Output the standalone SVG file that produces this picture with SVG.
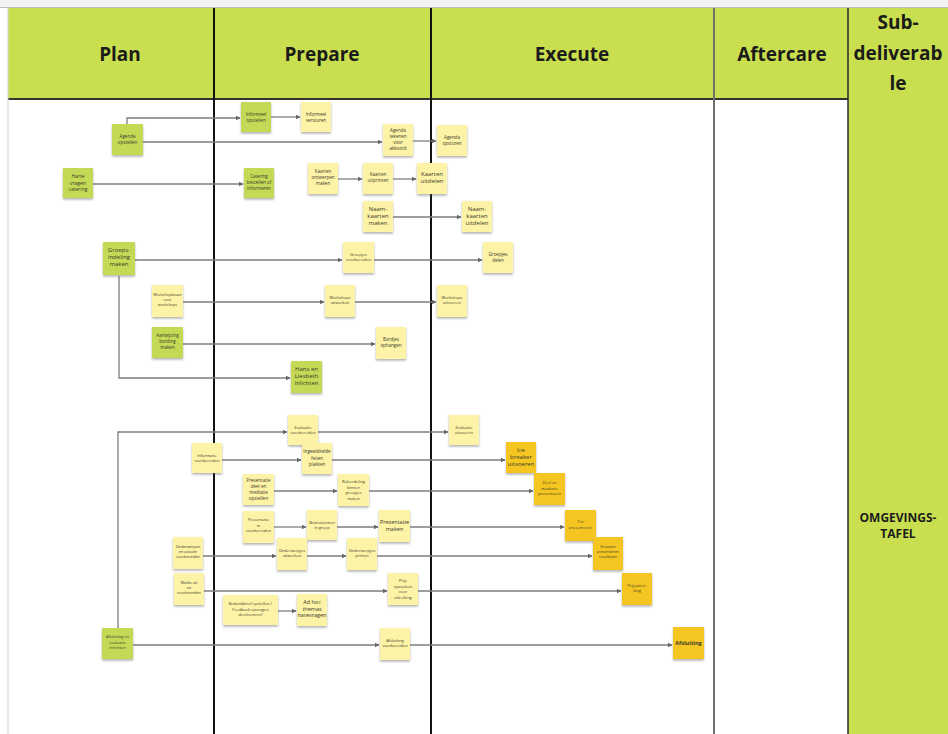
<svg xmlns="http://www.w3.org/2000/svg" width="948" height="734" viewBox="0 0 948 734">
<style>
.hd{font-family:"Open Sans","Noto Sans",sans-serif;font-weight:700;font-size:19px;fill:#1b1b1b;text-anchor:middle}
.sd{font-family:"Open Sans","Noto Sans",sans-serif;font-weight:700;font-size:12px;fill:#1b1b1b;text-anchor:middle}
.n rect{filter:url(#sh)}
.gr rect{fill:#c4d957}
.ye rect{fill:#fdf3a6}
.or rect{fill:#f5c623}
.n text{font-family:"Open Sans","Liberation Sans",sans-serif;fill:#3a3a2a;text-anchor:middle;font-size:4.5px}
.c path{fill:none;stroke:#7d7d7d;stroke-width:1.3;marker-end:url(#ah)}
.col{stroke:#111;stroke-width:2}
</style>
<defs>
<filter id="sh" x="-20%" y="-20%" width="140%" height="150%">
<feDropShadow dx="0" dy="1.6" stdDeviation="0.9" flood-color="#555" flood-opacity="0.45"/>
</filter>
<marker id="ah" viewBox="0 0 10 10" refX="9" refY="5" markerWidth="5" markerHeight="5" markerUnits="userSpaceOnUse" orient="auto">
<path d="M0,0 L10,5 L0,10 z" fill="#666"/>
</marker>
</defs>
<rect x="0" y="0" width="948" height="734" fill="#ffffff"/>
<rect x="0" y="0" width="948" height="7" fill="#f2f2f2"/>
<line x1="0" y1="7.5" x2="948" y2="7.5" stroke="#bbb" stroke-width="1"/>
<!-- header band -->
<rect x="8" y="8" width="840" height="91" fill="#c9df4f"/>
<rect x="848" y="8" width="100" height="726" fill="#c9df4f"/>
<line x1="8" y1="99" x2="848" y2="99" stroke="#333" stroke-width="2"/>
<line x1="8" y1="8" x2="8" y2="734" stroke="#cfcfcf" stroke-width="1"/>
<line class="col" x1="214" y1="8" x2="214" y2="734"/>
<line class="col" x1="431" y1="8" x2="431" y2="734" stroke="#333"/>
<line x1="714" y1="8" x2="714" y2="734" stroke="#6f6f6f" stroke-width="2"/>
<line x1="848" y1="8" x2="848" y2="734" stroke="#2a2a2a" stroke-width="1.5"/>
<text class="hd" x="120" y="61">Plan</text>
<text class="hd" x="322" y="61">Prepare</text>
<text class="hd" x="572" y="61">Execute</text>
<text class="hd" x="782" y="61">Aftercare</text>
<text class="hd" x="898" y="29">Sub-</text>
<text class="hd" x="898" y="60">deliverab</text>
<text class="hd" x="898" y="90">le</text>
<text class="sd" x="898" y="522">OMGEVINGS-</text>
<text class="sd" x="898" y="538">TAFEL</text>

<g id="connectors" class="c">
<path d="M127,124 V118 H240"/>
<path d="M271,117 H300"/>
<path d="M143,142 H382"/>
<path d="M413,141 H436"/>
<path d="M93,184 H243"/>
<path d="M338,179 H362"/>
<path d="M393,179 H416"/>
<path d="M393,217 H461"/>
<path d="M135,260 H342"/>
<path d="M374,260 H482"/>
<path d="M183,302 H324"/>
<path d="M355,302 H436"/>
<path d="M183,344 H375"/>
<path d="M119,276 V378 H290"/>
<path d="M118,628 V432 H287"/>
<path d="M318,432 H448"/>
<path d="M222,460 H301"/>
<path d="M332,460 H505"/>
<path d="M274,491 H337"/>
<path d="M369,491 H533"/>
<path d="M274,527 H306"/>
<path d="M337,527 H378"/>
<path d="M410,527 H564"/>
<path d="M203,556 H276"/>
<path d="M307,556 H346"/>
<path d="M377,556 H592"/>
<path d="M204,591 H387"/>
<path d="M418,591 H621"/>
<path d="M278,611 H296"/>
<path d="M133,645 H379"/>
<path d="M410,645 H672"/>
</g>

<g id="agenda-opstellen" class="n gr"><rect x="112" y="124" width="31" height="31"/><text x="127.5" y="138">Agenda</text><text x="127.5" y="144">opstellen</text></g>
<g id="informeel-opstellen" class="n gr"><rect x="241" y="102" width="30" height="30"/><text x="256" y="116">Informeel</text><text x="256" y="122">opstellen</text></g>
<g id="informeel-versturen" class="n ye"><rect x="301" y="102" width="30" height="30"/><text x="316" y="116">Informeel</text><text x="316" y="122">versturen</text></g>
<g id="agenda-akkoord" class="n ye"><rect x="383" y="124" width="30" height="32"/><text x="398" y="132">Agenda</text><text x="398" y="138">tekenen</text><text x="398" y="144">voor</text><text x="398" y="150">akkoord</text></g>
<g id="agenda-opsturen" class="n ye"><rect x="437" y="125" width="30" height="31"/><text x="452" y="139">Agenda</text><text x="452" y="145">opsturen</text></g>
<g id="catering-vragen" class="n gr"><rect x="63" y="168" width="30" height="30"/><text x="78" y="178" style="font-size:5px">Harte</text><text x="78" y="184.5" style="font-size:5px">vragen</text><text x="78" y="191" style="font-size:5px">catering</text></g>
<g id="catering-bestellen" class="n gr"><rect x="244" y="168" width="30" height="30"/><text x="259" y="178">Catering</text><text x="259" y="184">bestellen of</text><text x="259" y="190">informeren</text></g>
<g id="kaarten-ontwerpen" class="n ye"><rect x="308" y="163" width="30" height="31"/><text x="323" y="173">Kaarten</text><text x="323" y="179">ontwerpen</text><text x="323" y="185">maken</text></g>
<g id="kaarten-printen" class="n ye"><rect x="363" y="163" width="30" height="31"/><text x="378" y="176">Kaarten</text><text x="378" y="182">uitprinten</text></g>
<g id="kaarten-uitdelen" class="n ye"><rect x="417" y="163" width="30" height="31"/><text x="432" y="176" style="font-size:6px">Kaarten</text><text x="432" y="183" style="font-size:6px">uitdelen</text></g>
<g id="naamkaarten-maken" class="n ye"><rect x="363" y="201" width="30" height="31"/><text x="378" y="211" style="font-size:6px">Naam-</text><text x="378" y="218" style="font-size:6px">kaarten</text><text x="378" y="225" style="font-size:6px">maken</text></g>
<g id="naamkaarten-uitdelen" class="n ye"><rect x="462" y="201" width="30" height="31"/><text x="477" y="211" style="font-size:6px">Naam-</text><text x="477" y="218" style="font-size:6px">kaarten</text><text x="477" y="225" style="font-size:6px">uitdelen</text></g>
<g id="groepsindeling" class="n gr"><rect x="103" y="242" width="32" height="33"/><text x="119" y="252" style="font-size:6px">Groeps-</text><text x="119" y="259" style="font-size:6px">indeling</text><text x="119" y="266" style="font-size:6px">maken</text></g>
<g id="groepjes-voorbereiden" class="n ye"><rect x="343" y="242" width="31" height="31"/><text x="358.5" y="256" style="font-size:4px">Groepjes</text><text x="358.5" y="261" style="font-size:4px">voorbereiden</text></g>
<g id="groepjes-delen" class="n ye"><rect x="483" y="242" width="30" height="31"/><text x="498" y="256">Groepjes</text><text x="498" y="261.5">delen</text></g>
<g id="workshopkeuze" class="n ye"><rect x="152" y="285" width="31" height="32"/><text x="167.5" y="296" style="font-size:3.8px">Workshopkeuze</text><text x="167.5" y="301" style="font-size:3.8px">voor</text><text x="167.5" y="306" style="font-size:3.8px">workshops</text></g>
<g id="workshops-uitwerken" class="n ye"><rect x="325" y="285" width="30" height="32"/><text x="340" y="299" style="font-size:4px">Workshops</text><text x="340" y="304" style="font-size:4px">uitwerken</text></g>
<g id="workshops-uitvoeren" class="n ye"><rect x="437" y="285" width="30" height="32"/><text x="452" y="299" style="font-size:4px">Workshops</text><text x="452" y="304" style="font-size:4px">uitvoeren</text></g>
<g id="bording-maken" class="n gr"><rect x="152" y="327" width="31" height="31"/><text x="167.5" y="337">Aanwijzing</text><text x="167.5" y="343">bording</text><text x="167.5" y="349">maken</text></g>
<g id="bordjes-ophangen" class="n ye"><rect x="376" y="327" width="30" height="32"/><text x="391" y="341">Bordjes</text><text x="391" y="347">ophangen</text></g>
<g id="hans-liesbeth" class="n gr"><rect x="291" y="361" width="31" height="32"/><text x="306.5" y="371" style="font-size:6px">Hans en</text><text x="306.5" y="378" style="font-size:6px">Liesbeth</text><text x="306.5" y="385" style="font-size:6px">inlichten</text></g>
<g id="evaluatie-voorbereiden" class="n ye"><rect x="288" y="415" width="30" height="30"/><text x="303" y="429" style="font-size:4px">Evaluatie</text><text x="303" y="434" style="font-size:4px">voorbereiden</text></g>
<g id="evaluatie-uitvoeren" class="n ye"><rect x="449" y="415" width="30" height="30"/><text x="464" y="429" style="font-size:4px">Evaluatie</text><text x="464" y="434" style="font-size:4px">uitvoeren</text></g>
<g id="informatie-voorbereiden" class="n ye"><rect x="192" y="443" width="30" height="30"/><text x="207" y="457" style="font-size:4px">Informatie</text><text x="207" y="462" style="font-size:4px">voorbereiden</text></g>
<g id="feiten-plakken" class="n ye"><rect x="302" y="443" width="30" height="31"/><text x="317" y="453">Ingewikkelde</text><text x="317" y="459.5">feiten</text><text x="317" y="466">plakken</text></g>
<g id="icebreaker" class="n or"><rect x="506" y="442" width="30" height="31"/><text x="521" y="452" style="font-size:6px">Ice</text><text x="521" y="459" style="font-size:6px">breaker</text><text x="521" y="466" style="font-size:6px">uitvoeren</text></g>
<g id="presentatie-deel" class="n ye"><rect x="243" y="474" width="31" height="31"/><text x="258.5" y="482">Presentatie</text><text x="258.5" y="488">deel en</text><text x="258.5" y="494">mediatie</text><text x="258.5" y="500">opstellen</text></g>
<g id="rolverdeling" class="n ye"><rect x="338" y="474" width="31" height="32"/><text x="353.5" y="483" style="font-size:4px">Rolverdeling</text><text x="353.5" y="488.5" style="font-size:4px">binnen</text><text x="353.5" y="494" style="font-size:4px">groepjes</text><text x="353.5" y="499.5" style="font-size:4px">maken</text></g>
<g id="deel-presenteren" class="n or"><rect x="534" y="473" width="31" height="32"/><text x="549.5" y="484" style="font-size:4px">Deel en</text><text x="549.5" y="489.5" style="font-size:4px">mediatie</text><text x="549.5" y="495" style="font-size:4px">presenteren</text></g>
<g id="presentatie-voorbereiden" class="n ye"><rect x="243" y="511" width="31" height="32"/><text x="258.5" y="521" style="font-size:4px">Presentatie</text><text x="258.5" y="526.5" style="font-size:4px">in</text><text x="258.5" y="532" style="font-size:4px">voorbereiden</text></g>
<g id="brainstormen" class="n ye"><rect x="307" y="510" width="30" height="30"/><text x="322" y="524" style="font-size:4px">Brainstormen</text><text x="322" y="529" style="font-size:4px">in groep</text></g>
<g id="presentatie-maken" class="n ye"><rect x="379" y="510" width="31" height="32"/><text x="394.5" y="524" style="font-size:5.5px">Presentatie</text><text x="394.5" y="530.5" style="font-size:5.5px">maken</text></g>
<g id="tot-presenteren" class="n or"><rect x="565" y="510" width="31" height="31"/><text x="580.5" y="523" style="font-size:4px">Tot</text><text x="580.5" y="528.5" style="font-size:4px">presenteren</text></g>
<g id="onderwerpen-voorbereiden" class="n ye"><rect x="173" y="537" width="30" height="32"/><text x="188" y="548" style="font-size:3.8px">Onderwerpen</text><text x="188" y="553" style="font-size:3.8px">en actuele</text><text x="188" y="558" style="font-size:3.8px">voorbereiden</text></g>
<g id="onderwerpjes-uitwerken" class="n ye"><rect x="277" y="538" width="30" height="32"/><text x="292" y="552" style="font-size:4px">Onderwerpjes</text><text x="292" y="557" style="font-size:4px">uitwerken</text></g>
<g id="onderwerpjes-printen" class="n ye"><rect x="347" y="538" width="30" height="32"/><text x="362" y="552" style="font-size:4px">Onderwerpjes</text><text x="362" y="557" style="font-size:4px">printen</text></g>
<g id="groepen-presenteren" class="n or"><rect x="593" y="537" width="30" height="33"/><text x="608" y="548" style="font-size:3.8px">Groepen</text><text x="608" y="553" style="font-size:3.8px">presenteren</text><text x="608" y="558" style="font-size:3.8px">resultaten</text></g>
<g id="media-voorbereiden" class="n ye"><rect x="174" y="573" width="30" height="32"/><text x="189" y="584" style="font-size:3.8px">Media uit</text><text x="189" y="589" style="font-size:3.8px">en</text><text x="189" y="594" style="font-size:3.8px">voorbereiden</text></g>
<g id="prijs-opzoeken" class="n ye"><rect x="388" y="573" width="30" height="32"/><text x="403" y="582" style="font-size:4px">Prijs</text><text x="403" y="587.5" style="font-size:4px">opzoeken</text><text x="403" y="593" style="font-size:4px">voor</text><text x="403" y="598.5" style="font-size:4px">uitreiking</text></g>
<g id="prijsuitreiking" class="n or"><rect x="622" y="573" width="30" height="32"/><text x="637" y="587" style="font-size:4px">Prijsuitrei-</text><text x="637" y="592" style="font-size:4px">king</text></g>
<g id="bedankbrief" class="n ye"><rect x="223" y="595" width="55" height="30"/><text x="250.5" y="605" style="font-size:4px">Bedankbrief opstellen /</text><text x="250.5" y="610.5" style="font-size:4px">Feedback opvragen</text><text x="250.5" y="616" style="font-size:4px">deelnemers?</text></g>
<g id="ad-hoc" class="n ye"><rect x="297" y="594" width="30" height="32"/><text x="312" y="604" style="font-size:5.5px">Ad hoc</text><text x="312" y="610.5" style="font-size:5.5px">themas</text><text x="312" y="617" style="font-size:5.5px">natevragen</text></g>
<g id="afsluiting-inrichten" class="n gr"><rect x="102" y="628" width="31" height="31"/><text x="117.5" y="638" style="font-size:4px">Afsluiting en</text><text x="117.5" y="643.5" style="font-size:4px">evaluatie</text><text x="117.5" y="649" style="font-size:4px">inrichten</text></g>
<g id="afsluiting-voorbereiden" class="n ye"><rect x="380" y="628" width="30" height="32"/><text x="395" y="642" style="font-size:4px">Afsluiting</text><text x="395" y="647" style="font-size:4px">voorbereiden</text></g>
<g id="afsluiting" class="n or"><rect x="673" y="627" width="31" height="32"/><text x="688.5" y="645" style="font-size:5.5px;font-weight:700">Afsluiting</text></g>
</svg>
